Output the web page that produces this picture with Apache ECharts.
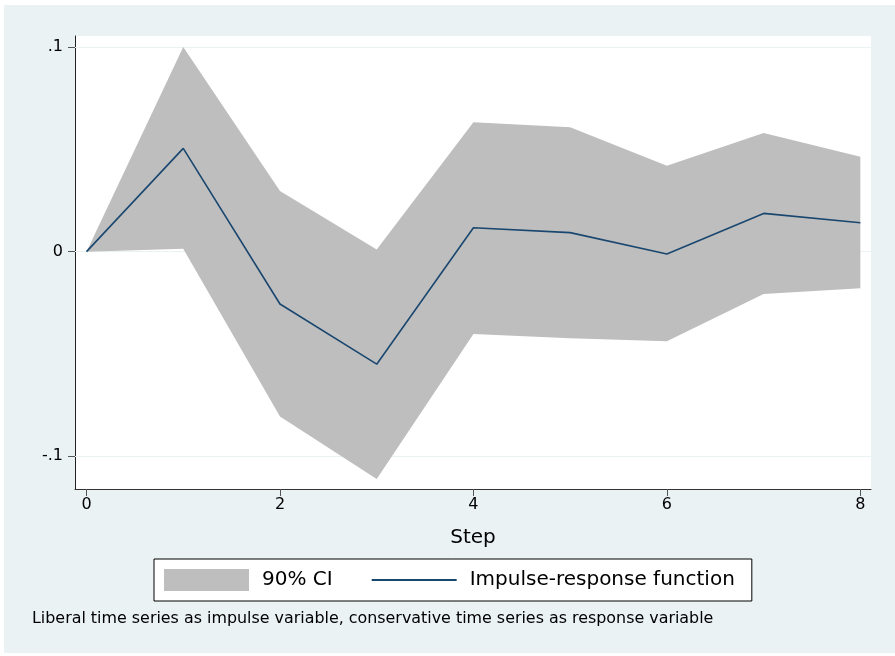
<!DOCTYPE html>
<html>
<head>
<meta charset="utf-8">
<script src="https://cdn.jsdelivr.net/npm/echarts@6/dist/echarts.min.js"></script>
<style>
  html, body { margin: 0; padding: 0; background: #fff; }
  #chart { width: 895px; height: 656px; }
</style>
</head>
<body>
<div id="chart"></div>
<script>
// steps of the impulse-response function
var steps = [0, 1, 2, 3, 4, 5, 6, 7, 8];
var irf = [0, 0.0505, -0.0256, -0.0550, 0.0117, 0.0093, -0.0011, 0.0187, 0.0141];
var ciUpper = [0, 0.1000, 0.0296, 0.0011, 0.0632, 0.0608, 0.0420, 0.0580, 0.0464];
var ciLower = [0, 0.0014, -0.0806, -0.1111, -0.0402, -0.0423, -0.0438, -0.0207, -0.0179];
var xTicks = [0, 2, 4, 6, 8];
var yTicks = [-0.1, 0, 0.1];
var yTickLabels = ['-.1', '0', '.1'];

var font = 'DejaVu Sans';
var chart = echarts.init(document.getElementById('chart'));

var bandData = steps.map(function (s, i) { return [s, ciLower[i], ciUpper[i]]; });
var irfData = steps.map(function (s, i) { return [s, irf[i]]; });

// the whole CI band is one polygon: upper edge left to right, lower edge back
function renderBand(params, api) {
    if (params.dataIndex !== 0) return;
    var pts = [];
    for (var i = 0; i < steps.length; i++) pts.push(api.coord([steps[i], ciUpper[i]]));
    for (var j = steps.length - 1; j >= 0; j--) pts.push(api.coord([steps[j], ciLower[j]]));
    return {
        type: 'polygon',
        shape: { points: pts },
        style: { fill: '#BEBEBE', stroke: null }
    };
}

var option = {
    animation: false,
    graphic: [
        {
            type: 'rect',
            z: -10,
            shape: { x: 4, y: 5, width: 891, height: 648 },
            style: { fill: '#EAF2F3' },
            silent: true
        },
        {
            type: 'text',
            left: 32,
            top: 611,
            style: {
                text: 'Liberal time series as impulse variable, conservative time series as response variable',
                font: '15.9px "DejaVu Sans"',
                fill: '#000'
            }
        }
    ],
    grid: {
        left: 75,
        top: 36,
        right: 24,
        bottom: 167,
        show: true,
        backgroundColor: '#fff',
        borderWidth: 0
    },
    legend: {
        left: 154,
        top: 559,
        padding: [10, 17, 10, 10],
        itemWidth: 85,
        itemHeight: 22,
        itemGap: 38,
        borderColor: '#000',
        borderWidth: 1,
        backgroundColor: '#fff',
        borderRadius: 0,
        textStyle: { fontFamily: font, fontSize: 20, color: '#000', padding: [0, 0, 0, 8] },
        data: [
            { name: '90% CI', icon: 'rect', itemStyle: { color: '#BEBEBE' } },
            { name: 'Impulse-response function', itemStyle: { opacity: 0 }, lineStyle: { color: '#1A476F', width: 2 } }
        ]
    },
    xAxis: {
        type: 'value',
        min: -0.119,
        max: 8.11,
        name: 'Step',
        nameLocation: 'middle',
        nameGap: 39,
        nameTextStyle: { fontFamily: font, fontSize: 20, color: '#000' },
        axisLine: { show: true, onZero: false, lineStyle: { color: '#333', width: 1 } },
        axisTick: { show: true, length: 7, customValues: xTicks, lineStyle: { color: '#555' } },
        axisLabel: { customValues: xTicks, margin: 8, fontFamily: font, fontSize: 16, color: '#000' },
        splitLine: { show: false }
    },
    yAxis: {
        type: 'value',
        min: -0.116,
        max: 0.1054,
        axisLine: { show: true, onZero: false, lineStyle: { color: '#222', width: 1 } },
        axisTick: { show: true, length: 7, customValues: yTicks, lineStyle: { color: '#555' } },
        axisLabel: {
            customValues: yTicks,
            margin: 12,
            fontFamily: font,
            fontSize: 16,
            color: '#000',
            formatter: function (v) {
                var i = yTicks.indexOf(Math.round(v * 10) / 10);
                return i >= 0 ? yTickLabels[i] : '';
            }
        },
        splitLine: { show: false }
    },
    series: [
        {
            name: '90% CI',
            type: 'custom',
            renderItem: renderBand,
            data: bandData,
            encode: { x: 0, y: [1, 2] },
            color: '#BEBEBE',
            silent: true,
            z: 2,
            markLine: {
                silent: true,
                symbol: 'none',
                label: { show: false },
                lineStyle: { color: '#EAF2F3', type: 'solid', width: 1 },
                data: yTicks.map(function (v) { return { yAxis: v }; }),
                z: 1
            }
        },
        {
            name: 'Impulse-response function',
            type: 'line',
            data: irfData,
            symbol: 'none',
            color: '#1A476F',
            lineStyle: { color: '#1A476F', width: 1.6 },
            z: 5
        }
    ]
};

chart.setOption(option);
</script>
</body>
</html>
